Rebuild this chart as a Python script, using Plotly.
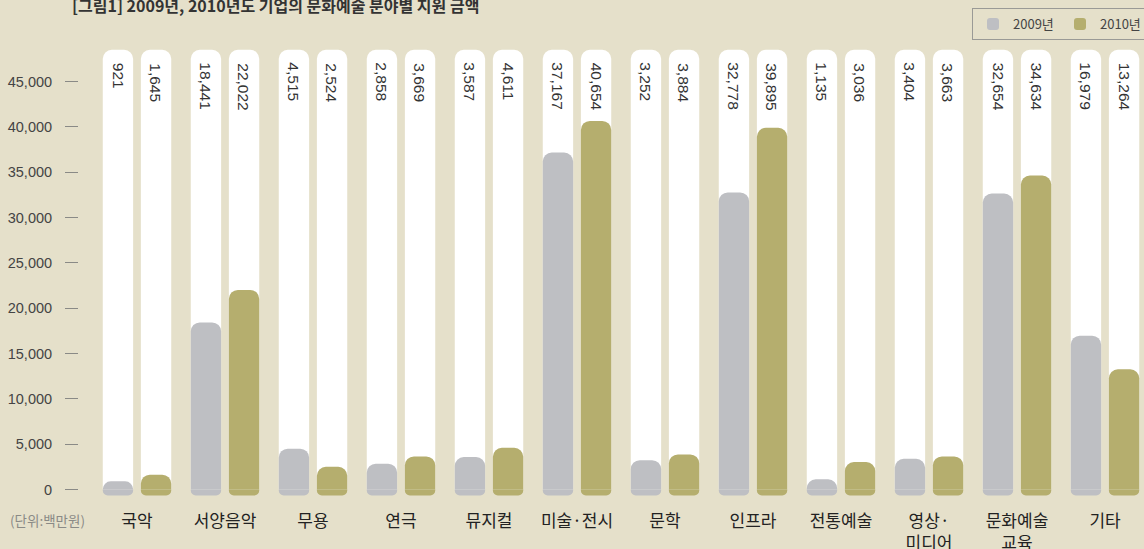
import plotly.graph_objects as go

categories = ["국악", "서양음악", "무용", "연극", "뮤지컬", "미술·전시", "문학", "인프라",
              "전통예술", "영상·<br>미디어", "문화예술<br>교육", "기타"]
values_2009 = [921, 18441, 4515, 2858, 3587, 37167, 3252, 32778, 1135, 3404, 32654, 16979]
values_2010 = [1645, 22022, 2524, 3669, 4611, 40654, 3884, 39895, 3036, 3663, 34634, 13264]
y_ticks = [0, 5000, 10000, 15000, 20000, 25000, 30000, 35000, 40000, 45000]

BG = "#e5e0ca"
GRAY = "#bebfc3"
OLIVE = "#b5ae6e"
TRACK_TOP = 48500
FOOT = -650
W = 0.345
SHIFT = 0.2165
R = 9

idx = list(range(len(categories)))
x09 = [i - SHIFT for i in idx]
x10 = [i + SHIFT for i in idx]
fig = go.Figure()

# white tracks (axis pair 1)
for xs in (x09, x10):
    fig.add_trace(go.Bar(x=xs, y=[TRACK_TOP] * len(idx), width=W,
                         marker=dict(color="white", line=dict(width=0), cornerradius=R),
                         showlegend=False, hoverinfo="skip", xaxis="x", yaxis="y"))

# rounded feet below zero (axis pair 2)
for xs, col in ((x09, GRAY), (x10, OLIVE)):
    fig.add_trace(go.Bar(x=xs, y=[FOOT] * len(idx), width=W,
                         marker=dict(color=col, line=dict(width=0), cornerradius=R),
                         showlegend=False, hoverinfo="skip", xaxis="x2", yaxis="y2"))

# data bars (axis pair 3)
fig.add_trace(go.Bar(x=x09, y=values_2009, width=W, name="2009년",
                     marker=dict(color=GRAY, line=dict(width=0), cornerradius=R),
                     xaxis="x3", yaxis="y3"))
fig.add_trace(go.Bar(x=x10, y=values_2010, width=W, name="2010년",
                     marker=dict(color=OLIVE, line=dict(width=0), cornerradius=R),
                     xaxis="x3", yaxis="y3"))

annotations = []
for i in idx:
    for xc, v in ((x09[i], values_2009[i]), (x10[i], values_2010[i])):
        annotations.append(dict(x=xc, y=TRACK_TOP, xref="x", yref="y",
                                text=f"{v:,}", textangle=90, showarrow=False,
                                yanchor="top", xanchor="center", yshift=-11,
                                font=dict(size=15.5, color="#333333",
                                          family="Liberation Sans, Noto Sans CJK KR")))

annotations.append(dict(x=70 / 1144, y=1 + (48 - 5) / 448, xref="paper", yref="paper",
                        text="<b>[그림1] 2009년, 2010년도 기업의 문화예술 분야별 지원 금액</b>",
                        showarrow=False, xanchor="left", yanchor="middle",
                        font=dict(size=16, color="#333333", family="Noto Sans CJK KR")))
annotations.append(dict(x=8 / 1144, y=-(520 - 496) / 448, xref="paper", yref="paper",
                        text="(단위:백만원)", showarrow=False, xanchor="left", yanchor="middle",
                        font=dict(size=13.5, color="#8a8a86", family="Noto Sans CJK KR")))

hidden_x = dict(overlaying="x", matches="x", visible=False)
hidden_y = dict(overlaying="y", matches="y", visible=False)

fig.update_layout(
    width=1144, height=549,
    margin=dict(l=0, r=0, t=48, b=53, autoexpand=False),
    paper_bgcolor=BG, plot_bgcolor=BG,
    barmode="overlay",
    font=dict(family="Noto Sans CJK KR", color="#333333"),
    legend=dict(orientation="h", xref="container", yref="container",
                x=972 / 1144, xanchor="left", y=1 - 8 / 549, yanchor="top",
                bgcolor=BG, bordercolor="#9a9a96", borderwidth=1,
                font=dict(size=13, color="#444444", family="Noto Sans CJK KR"),
                entrywidth=42, entrywidthmode="pixels", itemwidth=30, traceorder="normal"),
    annotations=annotations,
    xaxis=dict(domain=[93 / 1144, 1], range=[-0.5, 11.443], tickvals=idx, ticktext=categories,
               showgrid=False, zeroline=False, showline=False, ticks="", automargin=False,
               ticklabelstandoff=13,
               tickfont=dict(size=17, color="#222222", family="Noto Sans CJK KR")),
    yaxis=dict(range=[-700, 48700], tickvals=y_ticks, tickformat=",",
               anchor="free", position=78 / 1144, automargin=False,
               showgrid=False, zeroline=False, showline=False,
               ticks="outside", ticklen=13, tickcolor="#8a8a86", tickwidth=1,
               ticklabelstandoff=10,
               tickfont=dict(size=14.5, color="#444444", family="Liberation Sans, Noto Sans CJK KR")),
    xaxis2=hidden_x, yaxis2=hidden_y,
    xaxis3=hidden_x, yaxis3=hidden_y,
)

fig.write_html("out.html", config={"displayModeBar": False},
               post_script="document.body.style.margin='0px';document.body.style.overflow='hidden';")
